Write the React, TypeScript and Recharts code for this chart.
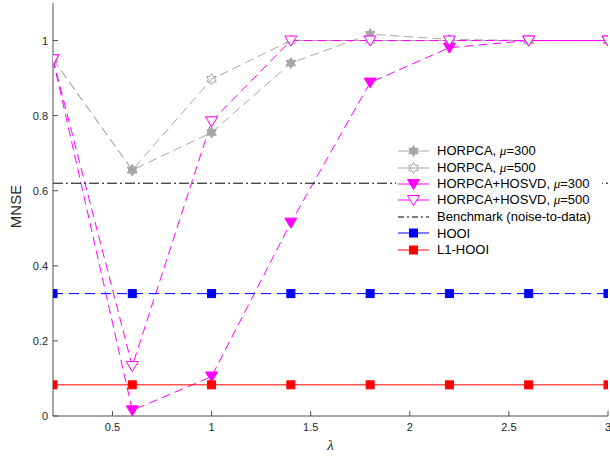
import React from 'react'
import { LineChart, Line, XAxis, YAxis, Legend } from 'recharts'

const lambda = [0.2, 0.6, 1.0, 1.4, 1.8, 2.2, 2.6, 3.0]
const horpca300 = [0.95, 0.655, 0.755, 0.94, 1.017, 1.003, 1.0, 1.0]
const horpca500 = [0.95, 0.655, 0.897, 1.0, 1.0, 1.0, 1.0, 1.0]
const hosvd300 = [0.95, 0.015, 0.105, 0.515, 0.888, 0.981, 1.0, 1.0]
const hosvd500 = [0.95, 0.133, 0.785, 1.0, 1.0, 1.0, 1.0, 1.0]
const benchmark = [0.62, 0.62, 0.62, 0.62, 0.62, 0.62, 0.62, 0.62]
const hooi = [0.326, 0.326, 0.326, 0.326, 0.326, 0.326, 0.326, 0.326]
const l1hooi = [0.083, 0.083, 0.083, 0.083, 0.083, 0.083, 0.083, 0.083]

const xTicks = [0.5, 1, 1.5, 2, 2.5, 3]
const yTicks = [0, 0.2, 0.4, 0.6, 0.8, 1]

const data = lambda.map((l, i) => ({
  lambda: l,
  h300: horpca300[i],
  h500: horpca500[i],
  s300: hosvd300[i],
  s500: hosvd500[i],
  bench: benchmark[i],
  hooi: hooi[i],
  l1: l1hooi[i],
}))

const GRAY = '#a6a6a6'
const MAGENTA = '#ff00ff'
const AXIS = '#4d4d4d'
const FONT = '"Liberation Sans", Arial, Helvetica, sans-serif'

type Marker = 'star' | 'tri' | 'square' | 'none'

const SERIES: Array<{ key: string; name: string; color: string; dash?: string; marker: Marker; filled: boolean }> = [
  { key: 'h300', name: 'HORPCA, μ=300', color: GRAY, dash: '9 5', marker: 'star', filled: true },
  { key: 'h500', name: 'HORPCA, μ=500', color: GRAY, dash: '9 5', marker: 'star', filled: false },
  { key: 's300', name: 'HORPCA+HOSVD, μ=300', color: MAGENTA, dash: '9 5', marker: 'tri', filled: true },
  { key: 's500', name: 'HORPCA+HOSVD, μ=500', color: MAGENTA, dash: '9 5', marker: 'tri', filled: false },
  { key: 'bench', name: 'Benchmark (noise-to-data)', color: '#000', dash: '10 3 2 3', marker: 'none', filled: false },
  { key: 'hooi', name: 'HOOI', color: '#0000ff', dash: '10 6', marker: 'square', filled: true },
  { key: 'l1', name: 'L1-HOOI', color: '#ff0000', marker: 'square', filled: true },
]

function hexPath(cx: number, cy: number, R: number) {
  const r = R / Math.sqrt(3)
  let d = ''
  for (let k = 0; k < 12; k++) {
    const a = (Math.PI / 180) * (-90 + k * 30)
    const rad = k % 2 === 0 ? R : r
    d += (k ? 'L' : 'M') + (cx + rad * Math.cos(a)).toFixed(2) + ',' + (cy + rad * Math.sin(a)).toFixed(2)
  }
  return d + 'Z'
}

function markerShape(kind: Marker, cx: number, cy: number, color: string, filled: boolean, key?: string) {
  const fill = filled ? color : '#fff'
  if (kind === 'star') return <path key={key} d={hexPath(cx, cy, 5.5)} fill={filled ? color : 'none'} stroke={color} strokeWidth={1} />
  if (kind === 'tri')
    return <path key={key} d={`M${cx - 6},${cy - 4.5}L${cx + 6},${cy - 4.5}L${cx},${cy + 5.5}Z`} fill={fill} stroke={color} strokeWidth={1} />
  if (kind === 'square') return <rect key={key} x={cx - 4} y={cy - 4} width={8} height={8} fill={color} stroke={color} strokeWidth={1} />
  return <g key={key} />
}

const makeDot = (s: (typeof SERIES)[number]) => (p: any) =>
  markerShape(s.marker, p.cx, p.cy, s.color, s.filled, `${s.key}-${p.index}`)

const BottomTick = (p: any) => (
  <g>
    <line x1={p.x} x2={p.x} y1={p.y} y2={p.y - 5} stroke={AXIS} />
    <text x={p.x} y={p.y + 15} textAnchor="middle" fontSize={11} fontFamily={FONT} fill="#262626">
      {p.payload.value}
    </text>
  </g>
)

const TopTick = (p: any) => <line x1={p.x} x2={p.x} y1={p.y} y2={p.y + 5} stroke={AXIS} />

const LeftTick = (p: any) => (
  <g>
    <line x1={p.x} x2={p.x + 5} y1={p.y} y2={p.y} stroke={AXIS} />
    <text x={p.x - 5} y={p.y + 4} textAnchor="end" fontSize={11} fontFamily={FONT} fill="#262626">
      {p.payload.value}
    </text>
  </g>
)

const RightTick = (p: any) => <line x1={p.x} x2={p.x - 5} y1={p.y} y2={p.y} stroke={AXIS} />

function LegendBox() {
  return (
    <div style={{ fontFamily: FONT, fontSize: 13, color: '#000', paddingTop: 2 }}>
      {SERIES.map((s) => {
        const [pre, post] = s.name.split('μ')
        return (
          <div key={s.key} style={{ display: 'flex', alignItems: 'center', height: 16.4, whiteSpace: 'nowrap' }}>
            <svg width={38} height={14} style={{ flex: 'none' }}>
              <line x1={2} x2={33} y1={7} y2={7} stroke={s.color} strokeDasharray={s.marker === 'none' ? '6 3 2 3' : undefined} />
              {markerShape(s.marker, 17.5, 7, s.color, s.filled)}
            </svg>
            <span style={{ marginLeft: 3 }}>
              {pre}
              {post !== undefined && (
                <>
                  <span style={{ fontStyle: 'italic', fontFamily: '"Liberation Serif", serif' }}>μ</span>
                  {post}
                </>
              )}
            </span>
          </div>
        )
      })}
    </div>
  )
}

export default function App() {
  return (
    <div style={{ position: 'absolute', left: 0, top: 0, background: '#fff' }}>
      <LineChart width={610} height={457} data={data} margin={{ top: 3, right: 2, bottom: 0, left: 0 }}>
        <XAxis
          dataKey="lambda"
          type="number"
          domain={[0.2, 3]}
          ticks={xTicks}
          interval={0}
          allowDataOverflow
          height={41}
          tickSize={0}
          tickMargin={0}
          tick={BottomTick}
          axisLine={{ stroke: AXIS }}
          label={{ value: 'λ', position: 'insideBottom', offset: 7, fontSize: 15, fontStyle: 'italic', fontFamily: '"Liberation Serif", serif', fill: '#262626' }}
        />
        <XAxis
          xAxisId="top"
          orientation="top"
          dataKey="lambda"
          type="number"
          domain={[0.2, 3]}
          ticks={xTicks}
          interval={0}
          allowDataOverflow
          height={0}
          tickSize={0}
          tickMargin={0}
          tick={TopTick}
          axisLine={{ stroke: AXIS }}
        />
        <YAxis
          type="number"
          domain={[0, 1.1]}
          ticks={yTicks}
          interval={0}
          allowDataOverflow
          width={53}
          tickSize={0}
          tickMargin={0}
          tick={LeftTick}
          axisLine={{ stroke: AXIS }}
          label={{ value: 'MNSE', angle: -90, position: 'insideLeft', offset: 16, dy: -3, fontSize: 15, fontFamily: FONT, fill: '#262626', style: { textAnchor: 'middle' } }}
        />
        <YAxis
          yAxisId="right"
          orientation="right"
          type="number"
          domain={[0, 1.1]}
          ticks={yTicks}
          interval={0}
          allowDataOverflow
          width={0}
          tickSize={0}
          tickMargin={0}
          tick={RightTick}
          axisLine={{ stroke: AXIS }}
        />
        {SERIES.map((s) => (
          <Line
            key={s.key}
            dataKey={s.key}
            name={s.name}
            type="linear"
            stroke={s.color}
            strokeWidth={1}
            strokeDasharray={s.dash}
            dot={s.marker === 'none' ? false : makeDot(s)}
            activeDot={false}
            isAnimationActive={false}
          />
        ))}
        <Legend
          layout="vertical"
          align="center"
          verticalAlign="middle"
          content={<LegendBox />}
          wrapperStyle={{ left: 396, top: 141, width: 206, height: 118, background: '#fff' }}
        />
      </LineChart>
    </div>
  )
}
